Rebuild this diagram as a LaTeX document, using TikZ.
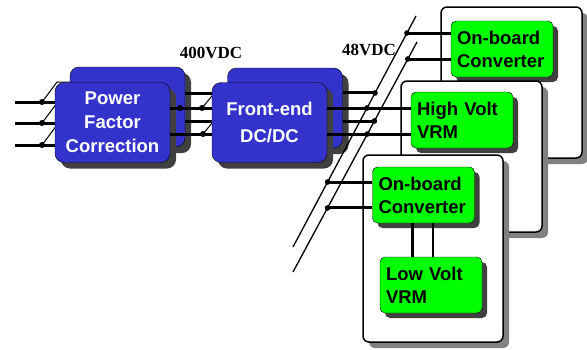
\documentclass[tikz,border=0pt]{standalone}
\usepackage{fontspec}
\setmainfont{Liberation Serif}
\setsansfont{Liberation Sans}
\usetikzlibrary{calc}
\usetikzlibrary{shadows}
\definecolor{blockblue}{RGB}{51,51,204}
\definecolor{vrmgreen}{RGB}{0,255,0}
\definecolor{darkshade}{RGB}{64,64,64}
\definecolor{cardshade}{RGB}{128,128,128}

\begin{document}
\begin{tikzpicture}[x=1pt,y=-1pt]
	\tikzstyle{block}=[rounded corners=9pt, draw=black, fill=blockblue, minimum width=115pt, minimum height=80pt, text=white, align=center, font=\sffamily\bfseries\fontsize{18.5}{24}\selectfont, drop shadow={shadow xshift=6pt, shadow yshift=-6pt, fill=darkshade, opacity=1}]
	\tikzstyle{vrm}=[rounded corners=5pt, draw=black, fill=vrmgreen, text width=90pt, inner xsep=6pt, minimum height=56pt, align=left, font=\sffamily\bfseries\fontsize{18.5}{23}\selectfont, drop shadow={shadow xshift=5pt, shadow yshift=-5pt, fill=darkshade, opacity=1}]
	\tikzstyle{card}=[rounded corners=6pt, draw=black, line width=1.5pt, fill=white, minimum width=141pt, drop shadow={shadow xshift=6pt, shadow yshift=-6pt, fill=cardshade, opacity=1}]
	\tikzstyle{wire}=[line width=3pt]
	\tikzstyle{tap}=[line width=1pt]
	\tikzstyle{bus}=[line width=1.3pt]
	\tikzstyle{volt}=[font=\bfseries\fontsize{17}{17}\selectfont]
	
	\useasboundingbox (0,0) rectangle (587,349);
	
	% back copies of the two stages
	\node at (127.5,107) [block] (pfcB) {};
	\node at (285,108) [block] (dcB) {};
	
	% three phase input
	\foreach \n/\y in {1/102,2/123,3/145} {
		\coordinate (in\n) at (15,\y);
		\coordinate (sp\n) at (42,\y);
		\coordinate (up\n) at ($(sp\n)+(15,-20)$);
		\draw[wire] (in\n) -- (in\n -| pfcB.west);
		\draw[tap] (sp\n) -- (up\n) -- (up\n -| pfcB.west);
		\fill (sp\n) circle (3pt);
	}
	
	\node at (112.5,122.5) [block] (pfcA) {Power\\Factor\\Correction};
	
	% 400VDC link
	\foreach \n/\y in {1/93,2/121} {
		\coordinate (lv\n) at (0,\y);
		\draw[wire] (pfcB.east |- lv\n) -- (dcB.west |- lv\n);
	}
	\foreach \n/\y in {3/108,4/134} {
		\coordinate (lv\n) at (0,\y);
		\draw[wire] (pfcA.east |- lv\n) -- (dcB.west |- lv\n);
	}
	\coordinate (jn1) at (180,108);
	\coordinate (jn2) at (202,108);
	\coordinate (jn3) at (203,134);
	\draw[tap] (jn2) -- ++(12,-14.5);
	\draw[tap] (jn3) -- ++(12,-14.5);
	\foreach \j in {jn1,jn2,jn3} \fill (\j) circle (3pt);
	
	\node at (269.5,122.5) [block, font=\sffamily\bfseries\fontsize{18.5}{27}\selectfont] (dcA) {Front-end\\DC/DC};
	
	\node at (211,53) [volt] (v400) {400VDC};
	\node at (369,50) [volt] (v48) {48VDC};
	
	% boards
	\node at (511.5,82.5) [card, minimum height=151pt] (card1) {};
	\node at (502,49) [vrm] (conv1) {On-board\\Converter};
	\node at (471.5,156.5) [card, minimum height=151pt] (card2) {};
	\node at (462,120) [vrm] (hvvrm) {High Volt\\VRM};
	\node at (433,248.5) [card, minimum width=140pt, minimum height=187pt] (card3) {};
	\node at (423.5,195) [vrm] (conv2) {On-board\\Converter};
	\node at (431,285) [vrm] (lvvrm) {Low Volt\\VRM};
	
	\draw[wire] ([xshift=-11.5pt]conv2.south) -- ([xshift=-11.5pt]conv2.south |- lvvrm.north);
	\draw[line width=2.2pt] ([xshift=9.5pt]conv2.south) -- ([xshift=9.5pt]conv2.south |- lvvrm.north);
	
	% 48V bus
	\coordinate (busAt) at (416,16);
	\coordinate (busAb) at (293,247);
	\coordinate (busBt) at (417,42);
	\coordinate (busBb) at (293,272);
	\draw[bus] (busAt) -- (busAb);
	\draw[bus] (busBt) -- (busBb);
	
	\coordinate (tapA1) at ($(busAt)!0.3333!(busAb)$);
	\coordinate (tapA2) at ($(busAt)!0.3983!(busAb)$);
	\coordinate (tapA3) at ($(busAt)!0.0736!(busAb)$);
	\coordinate (tapA4) at ($(busAt)!0.7186!(busAb)$);
	\coordinate (tapB1) at ($(busBt)!0.3435!(busBb)$);
	\coordinate (tapB2) at ($(busBt)!0.4!(busBb)$);
	\coordinate (tapB3) at ($(busBt)!0.0739!(busBb)$);
	\coordinate (tapB4) at ($(busBt)!0.7217!(busBb)$);
	
	\draw[wire] (dcB.east |- tapA1) -- (tapA1);
	\draw[wire] (dcA.east |- tapA2) -- (tapA2 -| hvvrm.west);
	\draw[wire] (dcB.east |- tapB1) -- (tapB1);
	\draw[wire] (dcA.east |- tapB2) -- (tapB2 -| hvvrm.west);
	\draw[wire] (tapA3) -- (tapA3 -| conv1.west);
	\draw[wire] (tapB3) -- (tapB3 -| conv1.west);
	\draw[wire] (tapA4) -- (tapA4 -| conv2.west);
	\draw[wire] (tapB4) -- (tapB4 -| conv2.west);
	\foreach \t in {tapA1,tapA2,tapA3,tapA4,tapB1,tapB2,tapB3,tapB4} \fill (\t) circle (2.8pt);
\end{tikzpicture}
\end{document}
